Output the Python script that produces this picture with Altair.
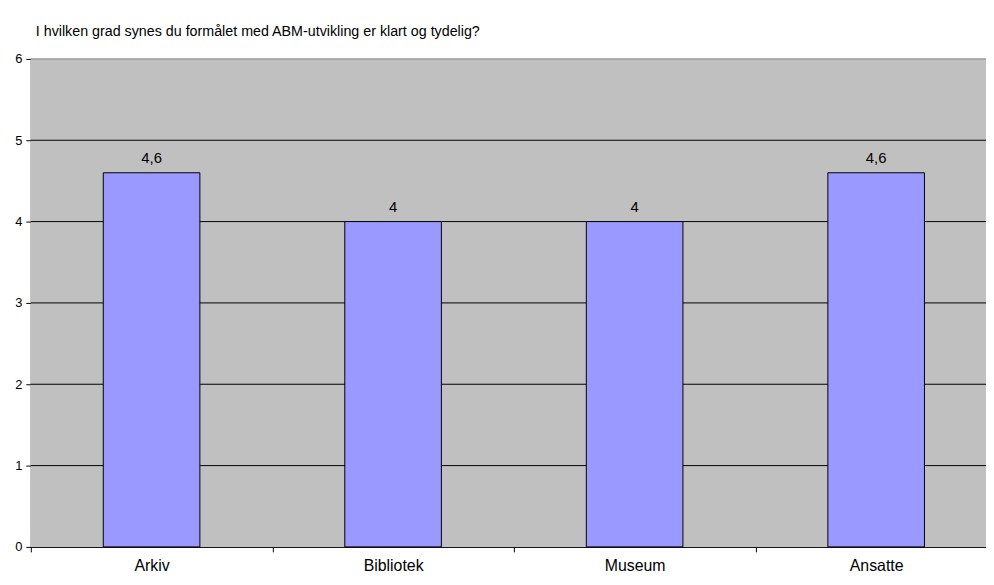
import altair as alt
import pandas as pd

categories = ["Arkiv", "Bibliotek", "Museum", "Ansatte"]
values = [4.6, 4.0, 4.0, 4.6]
value_labels = ["4,6", "4", "4", "4,6"]
y_ticks = [0, 1, 2, 3, 4, 5, 6]
title_text = "I hvilken grad synes du formålet med ABM-utvikling er klart og tydelig?"

df = pd.DataFrame({"cat": categories, "val": values, "lab": value_labels})
grid_df = pd.DataFrame({"t": y_ticks[1:]})
bg_df = pd.DataFrame({"k": [0]})

FONT = "Liberation Sans"

x_scale = alt.Scale(domain=categories, paddingInner=0, paddingOuter=0, range=[0, 974])
y_scale = alt.Scale(domain=[0, 6], nice=False, zero=True)

x_enc = alt.X(
    "cat:N",
    sort=categories,
    title=None,
    scale=x_scale,
    axis=alt.Axis(
        labelAngle=0,
        tickBand="extent",
        ticks=True,
        tickSize=5,
        tickColor="black",
        domainColor="black",
        labelFontSize=16,
        labelFont=FONT,
        labelColor="black",
        labelPadding=6,
        grid=False,
    ),
)

y_enc = alt.Y(
    "val:Q",
    title=None,
    scale=y_scale,
    axis=alt.Axis(
        values=y_ticks,
        format="d",
        tickSize=5,
        tickColor="black",
        domainColor="black",
        labelFontSize=13,
        labelFont=FONT,
        labelColor="black",
        labelPadding=4,
        grid=False,
    ),
)

background = alt.Chart(bg_df).mark_rect(color="#C0C0C0").encode(
    x=alt.value(0), x2=alt.value("width"), y=alt.value(0), y2=alt.value("height")
)

grid = alt.Chart(grid_df).mark_rule(strokeWidth=1).encode(
    x=alt.value(0),
    x2=alt.value("width"),
    y=alt.Y("t:Q", scale=y_scale),
    color=alt.condition("datum.t == 6", alt.value("#808080"), alt.value("black")),
)

bars = alt.Chart(df).mark_bar(
    width=alt.RelativeBandSize(0.4),
    color="#9999FF",
    stroke="black",
    strokeWidth=1,
).encode(x=x_enc, y=y_enc)

texts = alt.Chart(df).mark_text(
    baseline="bottom",
    dy=-7,
    fontSize=15,
    font=FONT,
    color="black",
).encode(x=alt.X("cat:N", sort=categories), y=alt.Y("val:Q"), text="lab:N")

chart = (
    alt.layer(background, grid, bars, texts)
    .properties(
        width=963,
        height=492,
        autosize=alt.AutoSizeParams(type="none"),
        padding={"left": 23, "top": 49, "right": 0, "bottom": 28},
        title=alt.TitleParams(
            title_text,
            anchor="start",
            frame="group",
            dx=5,
            offset=14,
            fontSize=14.4,
            font=FONT,
            fontWeight="normal",
            color="black",
        ),
    )
    .configure_view(stroke="transparent")
    .configure(background="white")
)

chart.save("out.html", embed_options={"renderer": "svg", "actions": False})
